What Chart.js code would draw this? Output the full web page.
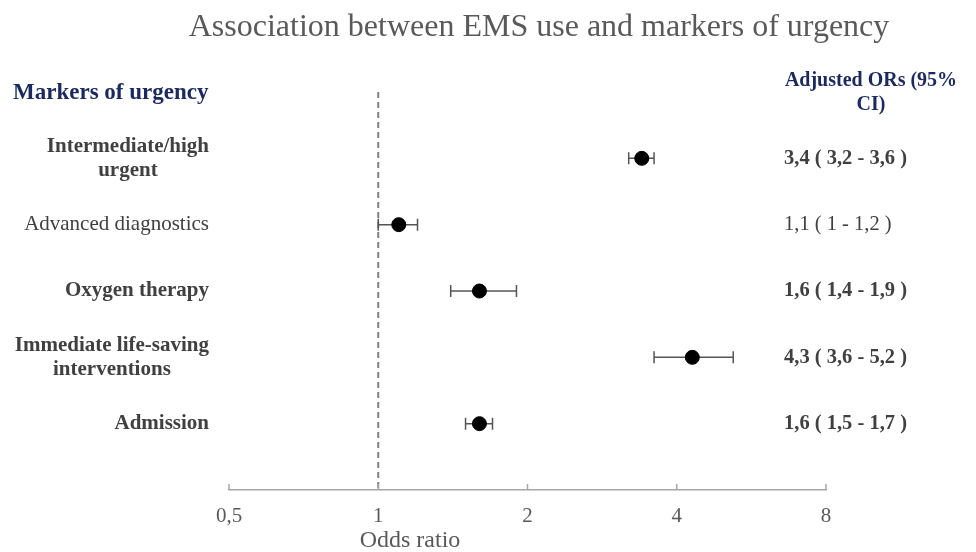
<!DOCTYPE html>
<html>
<head>
<meta charset="utf-8">
<script src="https://cdn.jsdelivr.net/npm/chart.js@4"></script>
<style>
  body { margin: 0; background: #fff; }
  #wrap { width: 976px; height: 552px; position: relative; }
</style>
</head>
<body>
<div id="wrap"><canvas id="forest"></canvas></div>
<script>
var categories = [
    ['Intermediate/high', 'urgent'],
    ['Advanced diagnostics'],
    ['Oxygen therapy'],
    ['Immediate life-saving', 'interventions'],
    ['Admission']
];
var oddsRatios = [3.4, 1.1, 1.6, 4.3, 1.6];
var ciLower = [3.2, 1.0, 1.4, 3.6, 1.5];
var ciUpper = [3.6, 1.2, 1.9, 5.2, 1.7];
var ciText = ['3,4 ( 3,2 - 3,6 )', '1,1 ( 1 - 1,2 )', '1,6 ( 1,4 - 1,9 )', '4,3 ( 3,6 - 5,2 )', '1,6 ( 1,5 - 1,7 )'];
var boldRows = [true, false, true, true, true];
var tickValues = [0.5, 1, 2, 4, 8];
var tickLabels = ['0,5', '1', '2', '4', '8'];

var serif = '"Liberation Serif", "Times New Roman", serif';
var navy = '#1b2a5e';
var textGray = '#404040';
var axisGray = '#595959';

// error bars, reference line and all the side texts
var forestPlugin = {
    id: 'forest',
    beforeDatasetsDraw: function (chart) {
        var ctx = chart.ctx;
        var x = chart.scales.x;
        var y = chart.scales.y;
        var area = chart.chartArea;

        // dashed line at OR = 1
        var x1 = x.getPixelForValue(1);
        ctx.save();
        ctx.strokeStyle = '#808080';
        ctx.lineWidth = 2;
        ctx.setLineDash([6, 4]);
        ctx.beginPath();
        ctx.moveTo(x1, area.top);
        ctx.lineTo(x1, area.bottom);
        ctx.stroke();
        ctx.restore();

        // tick marks pointing up from the axis
        ctx.save();
        ctx.strokeStyle = '#a6a6a6';
        ctx.lineWidth = 1.5;
        tickValues.forEach(function (v) {
            var px = x.getPixelForValue(v);
            ctx.beginPath();
            ctx.moveTo(px, area.bottom);
            ctx.lineTo(px, area.bottom - 6);
            ctx.stroke();
        });
        ctx.restore();

        // confidence intervals
        ctx.save();
        ctx.strokeStyle = '#555';
        ctx.lineWidth = 1.5;
        oddsRatios.forEach(function (or, i) {
            var py = y.getPixelForValue(i + 1);
            var lo = x.getPixelForValue(ciLower[i]);
            var hi = x.getPixelForValue(ciUpper[i]);
            ctx.beginPath();
            ctx.moveTo(lo, py);
            ctx.lineTo(hi, py);
            ctx.moveTo(lo, py - 6);
            ctx.lineTo(lo, py + 6);
            ctx.moveTo(hi, py - 6);
            ctx.lineTo(hi, py + 6);
            ctx.stroke();
        });
        ctx.restore();
    },
    afterDraw: function (chart) {
        var ctx = chart.ctx;
        var x = chart.scales.x;
        var y = chart.scales.y;
        ctx.save();
        ctx.textBaseline = 'middle';

        // title
        ctx.fillStyle = axisGray;
        ctx.font = '32px ' + serif;
        ctx.textAlign = 'center';
        ctx.fillText('Association between EMS use and markers of urgency', 539, 28);

        // column headers
        ctx.fillStyle = navy;
        ctx.font = 'bold 23px ' + serif;
        ctx.textAlign = 'left';
        ctx.fillText('Markers of urgency', 13, 93);
        ctx.font = 'bold 20px ' + serif;
        ctx.textAlign = 'center';
        ctx.fillText('Adjusted ORs (95%', 871, 81);
        ctx.fillText('CI)', 871, 105);

        // row labels and CI text
        categories.forEach(function (lines, i) {
            var py = y.getPixelForValue(i + 1);
            ctx.font = (boldRows[i] ? 'bold ' : '') + '21px ' + serif;
            ctx.fillStyle = textGray;
            var maxW = 0;
            lines.forEach(function (l) { maxW = Math.max(maxW, ctx.measureText(l).width); });
            var cx = 209 - maxW / 2;
            ctx.textAlign = 'center';
            lines.forEach(function (l, k) {
                var off = (k - (lines.length - 1) / 2) * 24;
                ctx.fillText(l, cx, py + off);
            });
            ctx.font = (boldRows[i] ? 'bold ' : '') + '20.5px ' + serif;
            ctx.textAlign = 'left';
            ctx.fillText(ciText[i], 784, py);
        });

        // axis title
        ctx.fillStyle = axisGray;
        ctx.font = '24px ' + serif;
        ctx.textAlign = 'center';
        ctx.fillText('Odds ratio', 410, 541);
        ctx.restore();
    }
};

var ctx = document.getElementById('forest').getContext('2d');

new Chart(ctx, {
    type: 'scatter',
    data: {
        datasets: [{
            data: oddsRatios.map(function (v, i) { return { x: v, y: i + 1 }; }),
            backgroundColor: '#000',
            borderColor: '#000',
            pointRadius: 7,
            pointHoverRadius: 7
        }]
    },
    options: {
        responsive: true,
        maintainAspectRatio: false,
        animation: false,
        layout: { padding: { left: 229, right: 150, top: 92, bottom: 0 } },
        plugins: {
            legend: { display: false },
            tooltip: { enabled: false }
        },
        scales: {
            x: {
                type: 'logarithmic',
                min: 0.5,
                max: 8,
                afterBuildTicks: function (scale) {
                    scale.ticks = tickValues.map(function (v) { return { value: v }; });
                },
                afterFit: function (scale) { scale.height = 62; },
                grid: { display: true, drawOnChartArea: false, drawTicks: false },
                border: { display: true, color: '#a6a6a6', width: 1.5 },
                ticks: {
                    autoSkip: false,
                    maxRotation: 0,
                    padding: 14,
                    color: axisGray,
                    font: { family: serif, size: 21 },
                    callback: function (v) {
                        var i = tickValues.indexOf(v);
                        return i >= 0 ? tickLabels[i] : '';
                    }
                }
            },
            y: {
                type: 'linear',
                min: 0,
                max: 6,
                reverse: true,
                display: false
            }
        }
    },
    plugins: [forestPlugin]
});
</script>
</body>
</html>
